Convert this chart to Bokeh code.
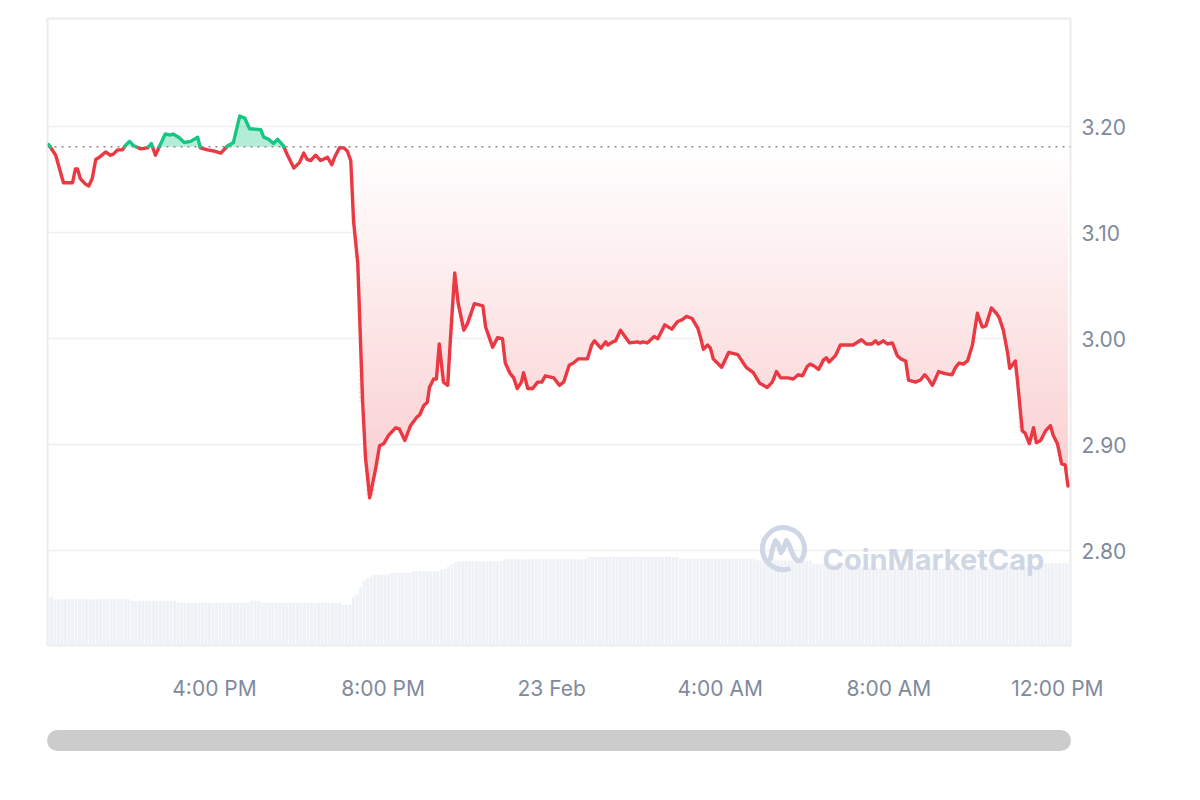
import numpy as np
import pandas as pd
from bokeh.plotting import figure
from bokeh.models import Range1d, FixedTicker, Span, Div, NumeralTickFormatter
from bokeh.layouts import column
from bokeh.embed import file_html
from bokeh.resources import INLINE
from bokeh.core.properties import value

# ---------------- data ----------------
start_time = pd.Timestamp("2025-02-22 12:00")   # minutes below are offsets from this
open_price = 3.181                               # dotted reference line

price_minutes = [
    4, 7, 14, 25, 38, 42, 45, 49, 56, 61,
    66, 71, 76, 85, 92, 96, 102, 109, 113, 119,
    125, 135, 145, 150, 156, 162, 170, 177, 181, 189,
    197, 206, 216, 220, 230, 239, 249, 259, 267, 276,
    283, 290, 306, 310, 317, 324, 330, 338, 344, 353,
    361, 367, 372, 377, 384, 391, 401, 407, 411, 418,
    424, 429, 434, 438, 444, 451, 455, 461, 469, 475,
    481, 488, 498, 503, 511, 519, 528, 532, 538, 543,
    546, 552, 556, 560, 566, 572, 576, 582, 587, 595,
    600, 610, 622, 626, 636, 643, 650, 654, 661, 666,
    671, 677, 680, 686, 693, 700, 706, 711, 723, 731,
    737, 745, 751, 758, 771, 777, 781, 790, 797, 800,
    807, 811, 818, 831, 842, 846, 850, 856, 866, 871,
    881, 891, 899, 906, 912, 920, 928, 932, 936, 942,
    946, 950, 962, 972, 985, 997, 1007, 1016, 1027, 1034,
    1040, 1046, 1056, 1064, 1071, 1077, 1084, 1088, 1094, 1100,
    1107, 1111, 1115, 1124, 1131, 1141, 1149, 1161, 1168, 1176,
    1181, 1185, 1192, 1198, 1205, 1212, 1217, 1224, 1228, 1238,
    1245, 1251, 1255, 1262, 1271, 1280, 1290, 1295, 1300, 1306,
    1312, 1319, 1326, 1333, 1338, 1346, 1353, 1357, 1363, 1369,
    1372, 1380, 1383, 1390, 1394, 1400, 1406, 1410, 1416, 1423,
    1430, 1434, 1440, 1446, 1451, 1455,
]
price_values = [
    3.183, 3.180, 3.173, 3.147, 3.147, 3.160, 3.160, 3.151, 3.146, 3.144,
    3.151, 3.169, 3.171, 3.176, 3.173, 3.174, 3.178, 3.178, 3.182, 3.186,
    3.182, 3.179, 3.180, 3.184, 3.173, 3.182, 3.193, 3.192, 3.193, 3.190,
    3.185, 3.186, 3.190, 3.180, 3.178, 3.177, 3.175, 3.182, 3.185, 3.210,
    3.208, 3.198, 3.197, 3.190, 3.188, 3.184, 3.188, 3.182, 3.173, 3.161,
    3.166, 3.175, 3.169, 3.168, 3.173, 3.168, 3.171, 3.164, 3.171, 3.180,
    3.180, 3.177, 3.168, 3.111, 3.071, 2.939, 2.888, 2.850, 2.876, 2.899,
    2.901, 2.909, 2.916, 2.915, 2.904, 2.918, 2.926, 2.928, 2.937, 2.940,
    2.954, 2.962, 2.962, 2.995, 2.959, 2.956, 3.001, 3.062, 3.033, 3.008,
    3.014, 3.033, 3.031, 3.011, 2.992, 3.001, 3.000, 2.977, 2.967, 2.963,
    2.953, 2.959, 2.968, 2.953, 2.953, 2.959, 2.959, 2.965, 2.963, 2.956,
    2.959, 2.975, 2.977, 2.981, 2.981, 2.994, 2.998, 2.991, 2.997, 2.994,
    2.997, 2.998, 3.008, 2.996, 2.997, 2.996, 2.997, 2.996, 3.002, 3.000,
    3.013, 3.009, 3.016, 3.018, 3.021, 3.019, 3.010, 3.001, 2.990, 2.994,
    2.991, 2.981, 2.973, 2.987, 2.985, 2.973, 2.968, 2.958, 2.954, 2.959,
    2.969, 2.963, 2.963, 2.962, 2.966, 2.965, 2.974, 2.976, 2.974, 2.971,
    2.980, 2.982, 2.978, 2.984, 2.994, 2.994, 2.994, 2.999, 2.995, 2.995,
    2.998, 2.995, 2.998, 2.995, 2.996, 2.984, 2.981, 2.979, 2.961, 2.959,
    2.961, 2.966, 2.963, 2.956, 2.969, 2.967, 2.966, 2.973, 2.977, 2.976,
    2.979, 2.994, 3.024, 3.011, 3.012, 3.029, 3.024, 3.020, 3.008, 2.987,
    2.972, 2.979, 2.961, 2.913, 2.911, 2.901, 2.916, 2.902, 2.904, 2.913,
    2.918, 2.909, 2.901, 2.882, 2.881, 2.861,
]

# volume (millions, 5-minute bars): step levels, each valid until the given minute
vol_bar_step = 5
vol_segment_end = [12, 120, 187, 290, 304, 421, 437, 442, 447, 451,
                   456, 461, 465, 489, 523, 559, 570, 575, 580, 588,
                   653, 764, 768, 772, 902, 1013, 1093, 1150, 1184, 1363,
                   1412, 1460]
vol_segment_level = [32.4, 31.0, 29.9, 28.6, 29.9, 28.6, 27.3, 32.4, 34.2, 39.1,
                     43.1, 44.7, 46.2, 47.4, 48.7, 49.8, 51.1, 52.9, 54.3, 55.4,
                     56.5, 57.8, 59.2, 57.8, 59.2, 58.1, 57.0, 54.7, 52.5, 51.4,
                     52.9, 55.1]

tick_minutes = [240, 480, 720, 960, 1200, 1440]
tick_labels = ["4:00 PM", "8:00 PM", "23 Feb", "4:00 AM", "8:00 AM", "12:00 PM"]
price_ticks = [2.8, 2.9, 3.0, 3.1, 3.2]

view_minutes = (2.3, 1458.6)
price_view = (2.7107, 3.3019)
vol_view = (0, 420)

RED = "#ea3943"
RED_RGB = (234, 57, 67)
GREEN = "#16c784"
LABEL = "#808a9d"
WATERMARK = "#cfd6e4"

# ---------------- helpers ----------------
def to_time(m):
    return start_time + pd.to_timedelta(np.asarray(m, dtype=float), unit="m")

def to_ms(m):
    return (start_time + pd.Timedelta(minutes=float(m))).value / 1e6

def tint(alpha):
    r, g, b = (int(round(255 - (255 - c) * alpha)) for c in RED_RGB)
    return "#%02x%02x%02x" % (r, g, b)

t = np.array(price_minutes, dtype=float)
v = np.array(price_values, dtype=float)

# insert the crossings with the open price so fills/colours switch exactly there
dt, dv = [t[0]], [v[0]]
for i in range(len(t) - 1):
    a, b = v[i] - open_price, v[i + 1] - open_price
    if a * b < 0:
        f = a / (a - b)
        dt.append(t[i] + f * (t[i + 1] - t[i]))
        dv.append(open_price)
    dt.append(t[i + 1])
    dv.append(v[i + 1])
dt = np.array(dt)
dv = np.array(dv)
times = to_time(dt)

# ---------------- figure ----------------
FW, FH = 1023, 627
p = figure(
    x_axis_type="datetime",
    frame_width=FW, frame_height=FH,
    x_range=Range1d(to_time([view_minutes[0]])[0], to_time([view_minutes[1]])[0]),
    y_range=Range1d(*price_view),
    y_axis_location="right",
    toolbar_location=None, tools="",
    output_backend="svg",
    min_border_left=47, min_border_right=112, min_border_top=18, min_border_bottom=62,
    background_fill_color="white", border_fill_color="white",
    outline_line_color="#ececec", outline_line_width=2,
)
p.extra_y_ranges = {"vol": Range1d(*vol_view)}

# volume bars
bar_minutes = np.arange(3, view_minutes[1], vol_bar_step)
idx = np.clip(np.searchsorted(vol_segment_end, bar_minutes, side="right"), 0, len(vol_segment_level) - 1)
bar_levels = np.array(vol_segment_level)[idx]
p.vbar(x=to_time(bar_minutes), top=bar_levels, bottom=0, width=4.2 * 60 * 1000,
       y_range_name="vol", fill_color="#eef1f5", line_color=None)

# watermark
px_min = (view_minutes[1] - view_minutes[0]) / FW
px_price = (price_view[1] - price_view[0]) / FH
wm_center_min, wm_center_price = 1050, 2.802
p.arc(x=to_time([wm_center_min]), y=[wm_center_price], radius=21, radius_units="screen",
      start_angle=-0.55, end_angle=5.05, line_width=5, line_color=WATERMARK)
m_dx = np.array([-13, -11, -8, -5, -2.5, 0, 3, 5.5, 8.5, 11, 14, 17])
m_dy = np.array([10, 0, -8, -4, 4, 0, -8, -4, 4, 9, 12, 12])
p.line(x=to_time(wm_center_min + m_dx * px_min), y=wm_center_price - m_dy * px_price,
       line_width=5, line_color=WATERMARK, line_join="round", line_cap="round")
p.text(x=to_time([1105.5]), y=[2.7915], text=["CoinMarketCap"],
       text_font=value("Inter"), text_font_size="29px", text_font_style="bold",
       text_color=WATERMARK, text_baseline="alphabetic", text_align="left")

# green fill above open price
p.varea(x=times, y1=np.full_like(dv, open_price), y2=np.maximum(dv, open_price),
        fill_color=GREEN, fill_alpha=0.32)

# red gradient fill below open price: opaque, non-overlapping horizontal bands
band = 0.004
edges = np.arange(open_price, 2.84, -band)
for hi in edges:
    lo = hi - band
    mid = hi - band / 2
    alpha = min(0.25, 0.76 * (open_price - mid))
    top = min(open_price, hi + band * 0.25)
    y1 = np.clip(dv, lo, top)
    p.varea(x=times, y1=y1, y2=np.full_like(dv, top), fill_color=tint(alpha), fill_alpha=1.0)

# open price dotted line
p.add_layout(Span(location=open_price, dimension="width", line_color="#8a8a8a",
                  line_width=1.5, line_dash="2 5"))

# price line, coloured by side of the open price
segs = {"g": ([], []), "r": ([], [])}
cur_key, cur_x, cur_y = None, [], []
for i in range(len(dt) - 1):
    key = "g" if (dv[i] + dv[i + 1]) / 2 >= open_price else "r"
    if key != cur_key:
        if cur_key is not None:
            segs[cur_key][0].append(to_time(cur_x))
            segs[cur_key][1].append(list(cur_y))
        cur_key, cur_x, cur_y = key, [dt[i]], [dv[i]]
    cur_x.append(dt[i + 1])
    cur_y.append(dv[i + 1])
segs[cur_key][0].append(to_time(cur_x))
segs[cur_key][1].append(list(cur_y))

for key, color in (("r", RED), ("g", GREEN)):
    xs, ys = segs[key]
    if xs:
        p.multi_line(xs=xs, ys=ys, line_color=color, line_width=3.4,
                     line_join="round", line_cap="round")

# axes
p.xaxis.ticker = FixedTicker(ticks=[to_ms(m) for m in tick_minutes])
p.xaxis.major_label_overrides = {to_ms(m): lab for m, lab in zip(tick_minutes, tick_labels)}
p.yaxis.ticker = FixedTicker(ticks=price_ticks)
p.yaxis.formatter = NumeralTickFormatter(format="0.00")
for ax in (p.xaxis, p.yaxis):
    ax.axis_line_color = None
    ax.major_tick_line_color = None
    ax.minor_tick_line_color = None
    ax.major_label_text_color = LABEL
    ax.major_label_text_font = "Inter"
    ax.major_label_text_font_size = "21px"
p.xaxis.major_label_standoff = 24
p.yaxis.major_label_standoff = 5

p.xgrid.visible = False
p.ygrid.grid_line_color = "#efefef"
p.ygrid.grid_line_width = 1.5

scroll = Div(
    text='<div style="width:1024px;height:21px;background:#cccccc;border-radius:11px;"></div>',
    width=1024, height=21, margin=(23, 0, 0, 47),
)

layout = column(p, scroll)
open("out.html", "w").write(file_html(layout, INLINE))
